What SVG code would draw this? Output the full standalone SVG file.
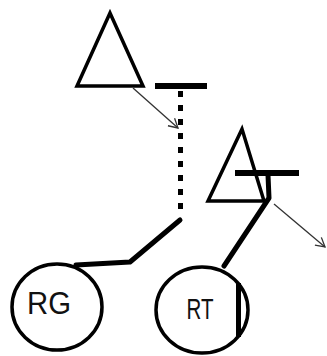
<svg xmlns="http://www.w3.org/2000/svg" width="327" height="356" viewBox="0 0 327 356">
<style>
.tri{fill:none;stroke:#000;stroke-width:3.5;stroke-linejoin:miter}
.bar{stroke:#000;stroke-width:6;fill:none}
.thick{stroke:#000;stroke-width:5;fill:none;stroke-linejoin:round;stroke-linecap:round}
.dot{stroke:#000;stroke-width:5;fill:none;stroke-dasharray:6 8}
.arr{stroke:#333;stroke-width:1.3;fill:none;marker-end:url(#ah)}
.node{fill:#fff;stroke:#000;stroke-width:3.5}
.lbl{font-family:"Liberation Sans",Arial,sans-serif;fill:#111;text-anchor:middle}
</style>
<defs>
<marker id="ah" markerWidth="12" markerHeight="12" refX="10" refY="6" orient="auto" markerUnits="userSpaceOnUse">
<path d="M1,1 L10,6 L1,11" fill="none" stroke="#333" stroke-width="1.3"/>
</marker>
</defs>
<g id="ligand1"><polygon class="tri" points="110,13 77,86 143,86"/></g>
<g id="ligand2"><polygon class="tri" points="242,129 208,201 264,201"/></g>
<g id="receptor1">
<line class="bar" x1="155" y1="86" x2="207" y2="86"/>
</g>
<g id="receptor2">
<line class="bar" x1="235" y1="173" x2="299" y2="173"/>
</g>
<g id="connectors">
<line class="dot" x1="180.5" y1="91" x2="180.5" y2="214"/>
<polyline class="thick" points="180,220 130,262 76,265"/>
<polyline class="thick" points="268,175 269,198 224,266"/>
<line class="arr" x1="133" y1="88" x2="178" y2="128"/>
<line class="arr" x1="274" y1="204" x2="325" y2="247"/>
</g>
<g id="RG">
<ellipse class="node" cx="57" cy="307" rx="45" ry="43"/>
<text class="lbl" x="49" y="314" font-size="32" textLength="44" lengthAdjust="spacingAndGlyphs">RG</text>
</g>
<g id="RT">
<ellipse class="node" cx="202" cy="310" rx="46" ry="43"/>
<line x1="238.5" y1="283" x2="238.5" y2="337" stroke="#000" stroke-width="5"/>
<text class="lbl" x="200" y="319" font-size="29" textLength="27" lengthAdjust="spacingAndGlyphs">RT</text>
</g>
</svg>
